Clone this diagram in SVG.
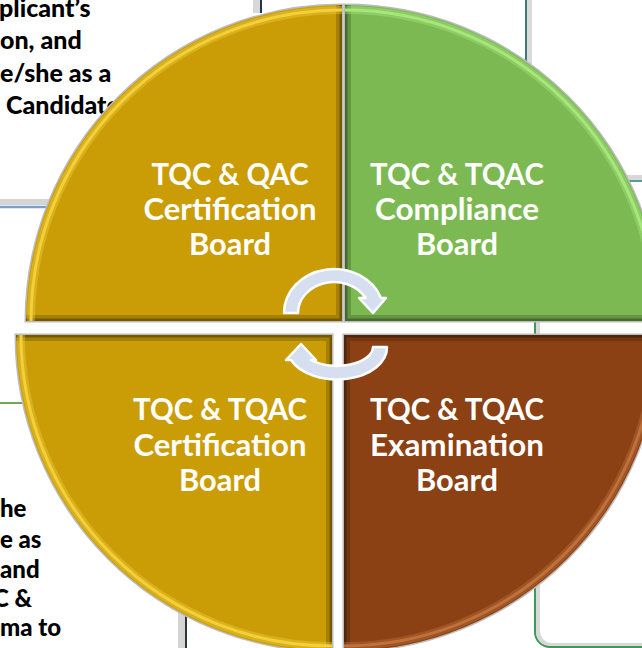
<svg xmlns="http://www.w3.org/2000/svg" width="642" height="648" viewBox="0 0 642 648">
<style>
.bg{font-family:Lato,"Liberation Sans",sans-serif;font-weight:900;fill:#000}
.lbl{font-family:Lato,"Liberation Sans",sans-serif;font-weight:bold;font-size:31px;fill:#fff;text-anchor:middle}
.halo{fill:none;stroke:#bcbcbc;stroke-width:3}
.edge1{fill:none;stroke:#000;stroke-opacity:.18;stroke-width:12}
.edge2{fill:none;stroke:#000;stroke-opacity:.3;stroke-width:5}
.hl{fill:none;stroke-width:3}
.hl2{fill:none;stroke-width:8;stroke-opacity:.35}
.arrow{fill:#d5dff0;stroke:#fff;stroke-width:2.5;stroke-linejoin:round}
</style>
<defs>
<clipPath id="cTL"><path d="M342 321 H26 A316 316 0 0 1 342 5 Z"/></clipPath>
<clipPath id="cTR"><path d="M345 321 V5 A316 316 0 0 1 661 321 Z"/></clipPath>
<clipPath id="cBL"><path d="M332 335 V651 A316 316 0 0 1 16 335 Z"/></clipPath>
<clipPath id="cBR"><path d="M344 335 H660 A316 316 0 0 1 344 651 Z"/></clipPath>
</defs>
<rect width="642" height="648" fill="#fff"/>
<g id="background">
  <rect x="253" y="0" width="7" height="13" fill="#d8d8d8"/>
  <line x1="261" y1="0" x2="261" y2="13" stroke="#1f3550" stroke-width="2"/>
  <rect x="527" y="0" width="5" height="64" fill="#dadada"/>
  <line x1="526" y1="0" x2="526" y2="64" stroke="#3a7a78" stroke-width="2"/>
  <rect x="620" y="175" width="22" height="5" fill="#d8d8d8"/>
  <line x1="620" y1="181" x2="642" y2="181" stroke="#5a9a98" stroke-width="2"/>
  <rect x="0" y="199" width="60" height="6" fill="#d5d5d5"/>
  <line x1="0" y1="207" x2="60" y2="207" stroke="#7d9fc6" stroke-width="2.5"/>
  <line x1="0" y1="403" x2="30" y2="403" stroke="#6fa85a" stroke-width="2"/>
  <rect x="178" y="610" width="7" height="38" fill="#d5d5d5"/>
  <line x1="186" y1="610" x2="186" y2="648" stroke="#2a3a30" stroke-width="2"/>
  <path d="M538 318 V631 A14 14 0 0 0 552 645 H642" fill="none" stroke="#d8d8d8" stroke-width="4"/>
  <path d="M535 318 V632 A15 15 0 0 0 550 647 H642" fill="none" stroke="#3f9a5a" stroke-width="2"/>
  <text class="bg" font-size="25" x="-1" y="17">plicant’s</text>
  <text class="bg" font-size="25" x="0" y="49">on, and</text>
  <text class="bg" font-size="25" x="0" y="82">e/she as a</text>
  <text class="bg" font-size="25" x="6" y="114">Candidate</text>
  <text class="bg" font-size="24" x="0" y="517">he</text>
  <text class="bg" font-size="24" x="0" y="548">e as</text>
  <text class="bg" font-size="24" x="0" y="578">and</text>
  <text class="bg" font-size="24" x="-7" y="607">C &amp;</text>
  <text class="bg" font-size="24" x="0" y="636">ma to</text>
</g>
<g id="node-tl">
  <path class="halo" d="M342 321 H26 A316 316 0 0 1 342 5 Z"/>
  <path d="M342 321 H26 A316 316 0 0 1 342 5 Z" fill="#ca9d06"/>
  <g clip-path="url(#cTL)">
    <path class="edge1" d="M26 321 H342 V5"/>
    <path class="edge2" d="M26 321 H342 V5"/>
    <path class="hl2" stroke="#f7d44a" d="M31 321 A311 311 0 0 1 342 10"/>
    <path class="hl" stroke="#f3cf3a" d="M31 321 A311 311 0 0 1 342 10"/>
  </g>
  <text class="lbl" x="230" y="185" textLength="157" lengthAdjust="spacingAndGlyphs">TQC &amp; QAC</text>
  <text class="lbl" x="230" y="220" textLength="173" lengthAdjust="spacingAndGlyphs">Certification</text>
  <text class="lbl" x="230" y="255" textLength="82" lengthAdjust="spacingAndGlyphs">Board</text>
</g>
<g id="node-tr">
  <path class="halo" d="M345 321 V5 A316 316 0 0 1 661 321 Z"/>
  <path d="M345 321 V5 A316 316 0 0 1 661 321 Z" fill="#7cb952"/>
  <g clip-path="url(#cTR)">
    <path class="edge1" d="M345 5 V321 H661"/>
    <path class="edge2" d="M345 5 V321 H661"/>
    <path class="hl2" stroke="#b0ee86" d="M345 10 A311 311 0 0 1 656 321"/>
    <path class="hl" stroke="#a6e67a" d="M345 10 A311 311 0 0 1 656 321"/>
  </g>
  <text class="lbl" x="457" y="185" textLength="174" lengthAdjust="spacingAndGlyphs">TQC &amp; TQAC</text>
  <text class="lbl" x="457" y="220" textLength="164" lengthAdjust="spacingAndGlyphs">Compliance</text>
  <text class="lbl" x="457" y="255" textLength="82" lengthAdjust="spacingAndGlyphs">Board</text>
</g>
<g id="node-bl">
  <path class="halo" d="M332 335 V651 A316 316 0 0 1 16 335 Z"/>
  <path d="M332 335 V651 A316 316 0 0 1 16 335 Z" fill="#ca9d06"/>
  <g clip-path="url(#cBL)">
    <path class="edge1" d="M16 335 H332 V651"/>
    <path class="edge2" d="M16 335 H332 V651"/>
    <path class="hl2" stroke="#f7d44a" d="M332 646 A311 311 0 0 1 21 335"/>
    <path class="hl" stroke="#f3cf3a" d="M332 646 A311 311 0 0 1 21 335"/>
  </g>
  <text class="lbl" x="220" y="420" textLength="174" lengthAdjust="spacingAndGlyphs">TQC &amp; TQAC</text>
  <text class="lbl" x="220" y="456" textLength="173" lengthAdjust="spacingAndGlyphs">Certification</text>
  <text class="lbl" x="220" y="491" textLength="82" lengthAdjust="spacingAndGlyphs">Board</text>
</g>
<g id="node-br">
  <path class="halo" d="M344 335 H660 A316 316 0 0 1 344 651 Z"/>
  <path d="M344 335 H660 A316 316 0 0 1 344 651 Z" fill="#8b4114"/>
  <g clip-path="url(#cBR)">
    <path class="edge1" d="M344 651 V335 H660"/>
    <path class="edge2" d="M344 651 V335 H660"/>
    <path class="hl2" stroke="#c77a45" d="M655 335 A311 311 0 0 1 344 646"/>
    <path class="hl" stroke="#c0703a" d="M655 335 A311 311 0 0 1 344 646"/>
  </g>
  <text class="lbl" x="457" y="420" textLength="174" lengthAdjust="spacingAndGlyphs">TQC &amp; TQAC</text>
  <text class="lbl" x="457" y="456" textLength="174" lengthAdjust="spacingAndGlyphs">Examination</text>
  <text class="lbl" x="457" y="491" textLength="82" lengthAdjust="spacingAndGlyphs">Board</text>
</g>
<g id="connectors">
  <path class="arrow" d="M284 313 A50 44 0 0 1 381 298 L386 298 L373 313 L359 298 L365.5 298 A36 31 0 0 0 298 313 Z"/>
  <path class="arrow" d="M387 347 A50 32 0 0 1 291 360 L286 360 L301 344 L316 360 L311 360 A36 19 0 0 0 373 347 Z"/>
</g>
</svg>
